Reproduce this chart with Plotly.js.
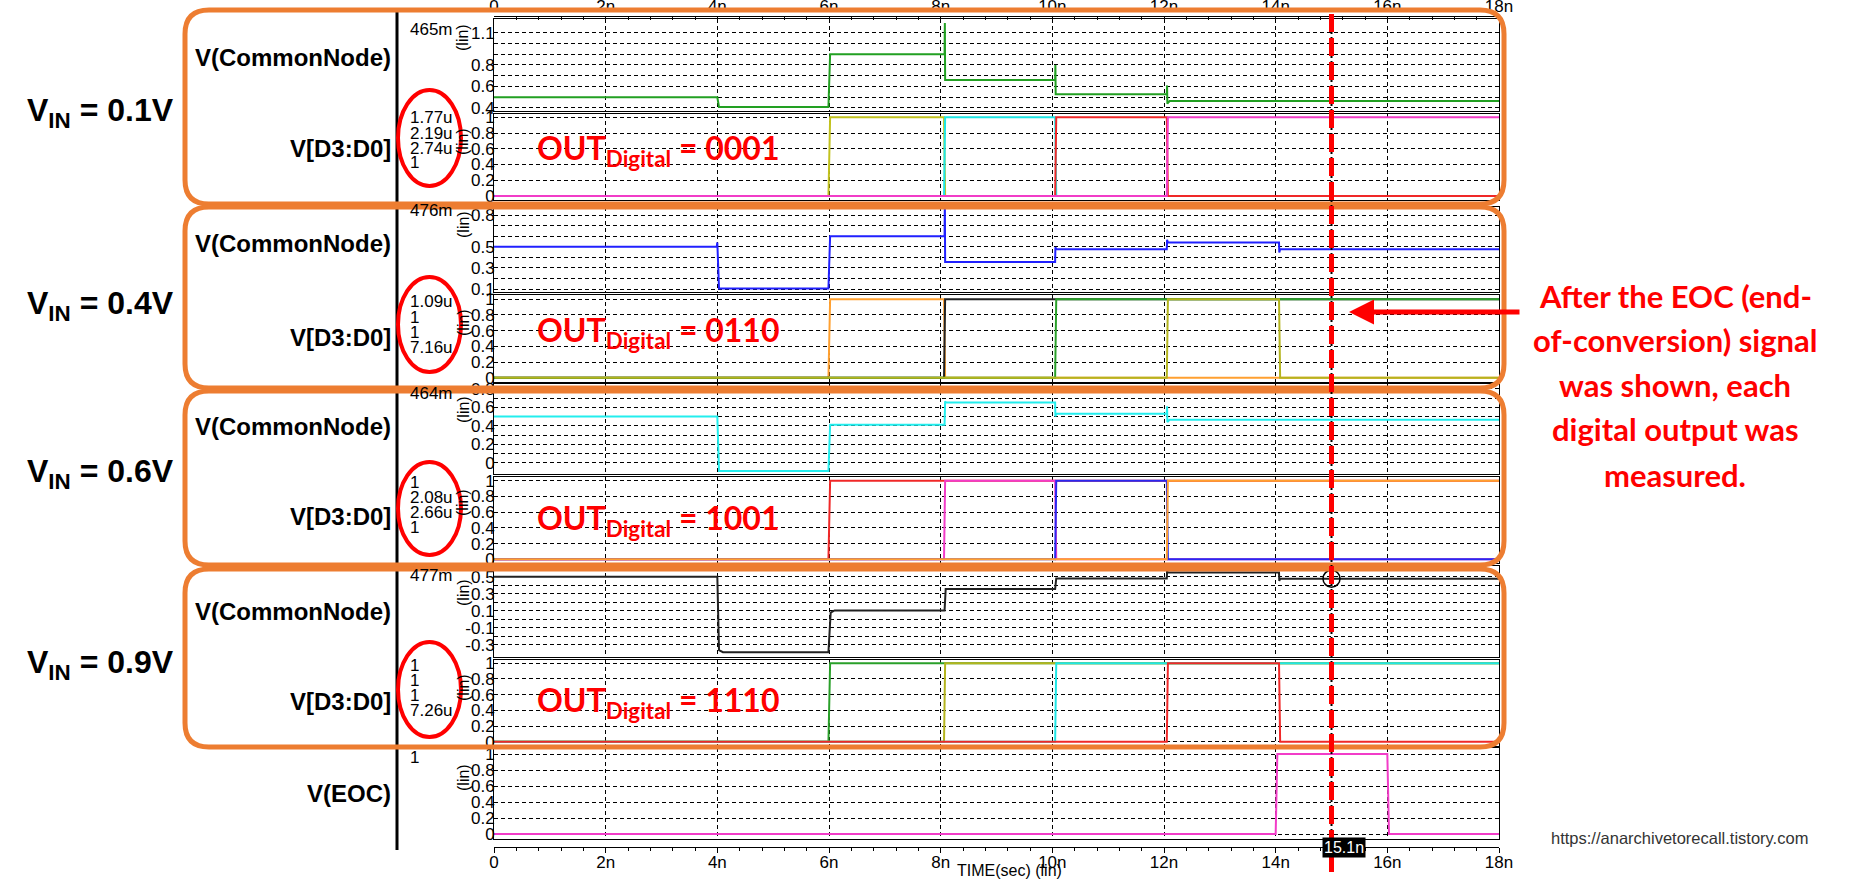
<!DOCTYPE html>
<html><head><meta charset="utf-8">
<script src="https://cdn.plot.ly/plotly-3.0.1.min.js"></script>
<style>html,body{margin:0;padding:0;background:#fff;} #chart{width:1870px;height:881px;}</style>
</head><body><div id="chart"></div>
<script>
// ---------------- DATA ----------------
const timeTickVals = [0, 2, 4, 6, 8, 10, 12, 14, 16, 18];
const timeTickText = ['0', '2n', '4n', '6n', '8n', '10n', '12n', '14n', '16n', '18n'];

const signalNames = ['V(CommonNode)', 'V[D3:D0]', 'V(CommonNode)', 'V[D3:D0]', 'V(CommonNode)', 'V[D3:D0]', 'V(CommonNode)', 'V[D3:D0]', 'V(EOC)'];
const vinValues = ['0.1V', '0.4V', '0.6V', '0.9V'];
const outCodes = ['0001', '0110', '1001', '1110'];

// V(CommonNode) traces (time in ns, volts)
const cnTime1 = [0, 4.00, 4.03, 5.99, 6.02, 8.07, 8.075, 8.08, 10.05, 10.055, 10.06, 12.05, 12.055, 12.06, 12.10, 18];
const cnVolt1 = [0.50, 0.50, 0.41, 0.41, 0.90, 0.90, 1.19, 0.66, 0.66, 0.80, 0.527, 0.527, 0.61, 0.44, 0.465, 0.465];
const cnTime2 = [0, 3.99, 4.00, 4.03, 5.99, 6.02, 8.07, 8.075, 8.08, 10.05, 10.055, 10.07, 12.05, 12.055, 12.07, 14.06, 14.065, 14.08, 18];
const cnVolt2 = [0.50, 0.50, 0.54, 0.105, 0.105, 0.60, 0.60, 0.95, 0.355, 0.355, 0.495, 0.477, 0.477, 0.565, 0.54, 0.54, 0.445, 0.476, 0.476];
const cnTime3 = [0, 4.00, 4.03, 5.99, 6.02, 8.07, 8.08, 8.09, 10.05, 10.055, 10.07, 12.05, 12.055, 12.06, 12.10, 18];
const cnVolt3 = [0.50, 0.50, -0.09, -0.09, 0.41, 0.41, 0.665, 0.652, 0.652, 0.50, 0.53, 0.53, 0.61, 0.44, 0.464, 0.464];
const cnTime4 = [0, 4.00, 4.03, 4.10, 5.99, 6.03, 6.10, 8.07, 8.09, 10.05, 10.07, 12.05, 12.055, 12.07, 14.06, 14.065, 14.08, 18];
const cnVolt4 = [0.50, 0.50, -0.36, -0.385, -0.385, 0.08, 0.105, 0.105, 0.355, 0.355, 0.48, 0.48, 0.567, 0.55, 0.55, 0.45, 0.477, 0.477];

// V[D3:D0] traces, rows = D3, D2, D1, D0
const digTime1 = [[0, 5.99, 6.02, 8.06, 8.08, 18], [0, 8.06, 8.08, 10.05, 10.07, 18], [0, 10.05, 10.07, 12.05, 12.07, 18], [0, 12.05, 12.07, 18]];
const digLevel1 = [[0, 0, 1, 1, 0, 0], [0, 0, 1, 1, 0, 0], [0, 0, 1, 1, 0, 0], [0, 0, 1, 1]];
const digTime2 = [[0, 5.99, 6.02, 8.06, 8.08, 18], [0, 8.06, 8.08, 18], [0, 10.05, 10.07, 18], [0, 12.05, 12.07, 14.06, 14.08, 18]];
const digLevel2 = [[0, 0, 1, 1, 0, 0], [0, 0, 1, 1], [0, 0, 1, 1], [0, 0, 1, 1, 0, 0]];
const digTime3 = [[0, 5.99, 6.02, 18], [0, 8.06, 8.08, 10.05, 10.07, 18], [0, 10.05, 10.07, 12.05, 12.07, 18], [0, 12.05, 12.07, 18]];
const digLevel3 = [[0, 0, 1, 1], [0, 0, 1, 1, 0, 0], [0, 0, 1, 1, 0, 0], [0, 0, 1, 1]];
const digTime4 = [[0, 5.99, 6.02, 18], [0, 8.06, 8.08, 18], [0, 10.05, 10.07, 18], [0, 12.05, 12.07, 14.06, 14.08, 18]];
const digLevel4 = [[0, 0, 1, 1], [0, 0, 1, 1], [0, 0, 1, 1], [0, 0, 1, 1, 0, 0]];

// V(EOC)
const eocTime = [0, 14.00, 14.03, 16.00, 16.03, 18];
const eocLevel = [0, 0, 1, 1, 0, 0];

// cursor
const cursorTime = 15.0;
const cursorLabel = '15.1n';
const cnCursorText = ['465m', '476m', '464m', '477m'];
const cnCursorValue = [0.465, 0.476, 0.464, 0.477];
const digCursorText = [['1.77u', '2.19u', '2.74u', '1'], ['1.09u', '1', '1', '7.16u'], ['1', '2.08u', '2.66u', '1'], ['1', '1', '1', '7.26u']];
const eocCursorText = '1';

// y tick labels
const cnTickVals = [
  [0.4, 0.5, 0.6, 0.7, 0.8, 0.9, 1.0, 1.1],
  [0.1, 0.2, 0.3, 0.4, 0.5, 0.6, 0.7, 0.8],
  [0, 0.1, 0.2, 0.3, 0.4, 0.5, 0.6, 0.7, 0.8],
  [-0.3, -0.2, -0.1, 0, 0.1, 0.2, 0.3, 0.4, 0.5]
];
const cnTickText = [
  ['0.4', '', '0.6', '', '0.8', '', '', '1.1'],
  ['0.1', '', '0.3', '', '0.5', '', '', '0.8'],
  ['0', '', '0.2', '', '0.4', '', '0.6', '', '0.8'],
  ['-0.3', '', '-0.1', '', '0.1', '', '0.3', '', '0.5']
];
const digTickVals = [0, 0.2, 0.4, 0.6, 0.8, 1];
const digTickText = ['0', '0.2', '0.4', '0.6', '0.8', '1'];

const noteLines = ['After the EOC (end-', 'of-conversion) signal', 'was shown, each', 'digital output was', 'measured.'];
const watermark = 'https://anarchivetorecall.tistory.com';

// ---------------- STYLE / LAYOUT ----------------
const W = 1870, H = 881;
const fx = p => p / W;
const fy = p => 1 - p / H;

const cnColors = ['#22a022', '#2020ff', '#22eeee', '#222222'];
const digColors = [
  ['#c2c21e', '#1fe6e6', '#f02828', '#f23cc8'],
  ['#ffa030', '#222222', '#2aa02a', '#b4b41e'],
  ['#f02828', '#f23cc8', '#2828f0', '#ffa030'],
  ['#2aa02a', '#b4b41e', '#1fe6e6', '#f02828']
];
const eocColor = '#f23cc8';

const panelTop = [19, 113.5, 207, 294.5, 384, 476.5, 566, 659.5, 748];
const panelBot = [111, 200, 292, 382, 474, 563, 657, 746, 839];
const panelRange = [[0.372, 1.2274], [-0.051, 1.048], [0.0716, 0.876], [-0.055, 1.061], [-0.122, 0.852], [-0.047, 1.053], [-0.441, 0.625], [-0.055, 1.048], [-0.0625, 1.075]];
const plotLeft = 494, plotRight = 1499;

const ax = i => (i === 1 ? '' : String(i));
const traces = [];
const cnTimes = [cnTime1, cnTime2, cnTime3, cnTime4];
const cnVolts = [cnVolt1, cnVolt2, cnVolt3, cnVolt4];
const digTimes = [digTime1, digTime2, digTime3, digTime4];
const digLevels = [digLevel1, digLevel2, digLevel3, digLevel4];

for (let p = 0; p < 4; p++) {
  const ci = 2 * p + 1, di = 2 * p + 2;
  traces.push({x: cnTimes[p], y: cnVolts[p], xaxis: 'x' + ax(ci), yaxis: 'y' + ax(ci), mode: 'lines',
    line: {color: cnColors[p], width: 2}, hoverinfo: 'skip'});
  for (let b = 0; b < 4; b++) {
    traces.push({x: digTimes[p][b], y: digLevels[p][b], xaxis: 'x' + ax(di), yaxis: 'y' + ax(di), mode: 'lines',
      line: {color: digColors[p][b], width: 2}, hoverinfo: 'skip'});
  }
}
traces.push({x: eocTime, y: eocLevel, xaxis: 'x9', yaxis: 'y9', mode: 'lines', line: {color: eocColor, width: 2}, hoverinfo: 'skip'});
// cursor circle on last CommonNode
traces.push({x: [cursorTime], y: [cnCursorValue[3]], xaxis: 'x7', yaxis: 'y7', mode: 'markers',
  marker: {symbol: 'circle-open', size: 17, color: '#000', line: {width: 1.5, color: '#000'}}, hoverinfo: 'skip', cliponaxis: false});
// dummies for ruler axes
traces.push({x: [null], y: [null], xaxis: 'x10', yaxis: 'y', mode: 'lines', hoverinfo: 'skip'});
traces.push({x: [null], y: [null], xaxis: 'x11', yaxis: 'y9', mode: 'lines', hoverinfo: 'skip'});

const gridStyle = {showgrid: true, gridcolor: '#000', gridwidth: 1, griddash: '4px,3px'};
const layout = {
  width: W, height: H, margin: {l: 0, r: 0, t: 0, b: 0},
  paper_bgcolor: '#fff', plot_bgcolor: '#fff', showlegend: false,
  font: {family: 'Liberation Sans, Arial, sans-serif', color: '#000', size: 16},
  annotations: [], shapes: []
};
for (let i = 1; i <= 9; i++) {
  const isCN = (i % 2 === 1) && i < 9;
  const p = Math.floor((i - 1) / 2);
  layout['xaxis' + ax(i)] = Object.assign({
    domain: [fx(plotLeft), fx(plotRight)], range: [0, 18], anchor: 'y' + ax(i),
    tickmode: 'array', tickvals: timeTickVals, showticklabels: false, ticks: '',
    showline: true, mirror: true, linecolor: '#000', linewidth: 1, zeroline: false, fixedrange: true
  }, gridStyle);
  layout['yaxis' + ax(i)] = Object.assign({
    domain: [fy(panelBot[i - 1]), fy(panelTop[i - 1])], range: panelRange[i - 1], anchor: 'x' + ax(i),
    tickmode: 'array', tickvals: isCN ? cnTickVals[p] : digTickVals, ticktext: isCN ? cnTickText[p] : digTickText,
    ticks: '', tickfont: {size: 17, color: '#000'}, ticklabelstandoff: -5,
    showline: true, mirror: true, linecolor: '#000', linewidth: 1, zeroline: false, fixedrange: true
  }, gridStyle);
}
const rulerBase = {range: [0, 18], anchor: 'free', tickmode: 'array', tickvals: timeTickVals, ticktext: timeTickText,
  showline: true, linecolor: '#000', linewidth: 1, showgrid: false, zeroline: false, tickcolor: '#000', tickfont: {size: 17, color: '#000'}, fixedrange: true};
layout.xaxis10 = Object.assign({}, rulerBase, {overlaying: 'x', position: fy(15.5), side: 'top', ticks: 'inside', ticklen: 4, ticklabelstandoff: -3,
  minor: {tickmode: 'linear', tick0: 0, dtick: 0.4, ticks: 'inside', ticklen: 3, tickcolor: '#000'}});
layout.xaxis11 = Object.assign({}, rulerBase, {overlaying: 'x9', position: fy(847), side: 'bottom', ticks: 'outside', ticklen: 5, ticklabelstandoff: -5,
  minor: {tickmode: 'linear', tick0: 0, dtick: 0.4, ticks: 'outside', ticklen: 3, tickcolor: '#000'}});

const A = layout.annotations, S = layout.shapes;
// signal names
const nameY = [57, 148, 243, 337, 426, 516, 611, 701, 793];
signalNames.forEach((t, i) => A.push({text: '<b>' + t + '</b>', xref: 'paper', yref: 'paper', x: fx(393), y: fy(nameY[i]),
  xanchor: 'right', yanchor: 'middle', showarrow: false, font: {size: 24, color: '#000', family: 'Liberation Sans, Arial'}}));
// VIN labels
const vinY = [112, 305, 473, 664];
vinValues.forEach((t, i) => A.push({text: '<b>V<sub>IN</sub> = ' + t + '</b>', xref: 'paper', yref: 'paper', x: fx(100), y: fy(vinY[i]),
  xanchor: 'center', yanchor: 'middle', showarrow: false, font: {size: 32, color: '#000', family: 'Liberation Sans, Arial'}}));
// OUT labels
const outY = [150, 332, 520, 702];
outCodes.forEach((t, i) => A.push({text: '<b>OUT<sub>Digital</sub> = ' + t + '</b>', xref: 'paper', yref: 'paper', x: fx(535), y: fy(outY[i]),
  xanchor: 'left', yanchor: 'middle', showarrow: false, font: {size: 32, color: '#ff0000', family: 'Lato, sans-serif'}}));
// (lin) labels
const linY = [38, 142, 225, 323, 410, 503, 593, 688, 778];
linY.forEach(y => A.push({text: '(lin)', xref: 'paper', yref: 'paper', x: fx(463), y: fy(y), textangle: -90,
  xanchor: 'center', yanchor: 'middle', showarrow: false, font: {size: 16, color: '#000'}}));
// cursor values
const cnCurY = [29, 210, 393, 575];
cnCursorText.forEach((t, i) => A.push({text: t, xref: 'paper', yref: 'paper', x: fx(408), y: fy(cnCurY[i]),
  xanchor: 'left', yanchor: 'middle', showarrow: false, font: {size: 17, color: '#000'}}));
const digCurY0 = [118, 302, 482, 665];
digCursorText.forEach((rows, i) => rows.forEach((t, k) => A.push({text: t, xref: 'paper', yref: 'paper', x: fx(408), y: fy(digCurY0[i] + 15 * k),
  xanchor: 'left', yanchor: 'middle', showarrow: false, font: {size: 17, color: '#000'}})));
A.push({text: eocCursorText, xref: 'paper', yref: 'paper', x: fx(408), y: fy(757), xanchor: 'left', yanchor: 'middle', showarrow: false, font: {size: 17, color: '#000'}});
// cursor label box
A.push({text: cursorLabel, xref: 'x', yref: 'paper', x: cursorTime, xshift: 12, y: fy(847), xanchor: 'center', yanchor: 'middle',
  showarrow: false, bgcolor: '#000', borderpad: 1, font: {size: 16, color: '#fff'}});
// axis title
A.push({text: 'TIME(sec) (lin)', xref: 'paper', yref: 'paper', x: fx(1009), y: fy(870), xanchor: 'center', yanchor: 'middle', showarrow: false, font: {size: 16, color: '#000'}});
// note text (one annotation per line) + arrow
const noteY = [296, 340, 385, 429, 475];
noteLines.forEach((t, i) => A.push({text: '<b>' + t + '</b>', xref: 'paper', yref: 'paper', x: fx(1675), y: fy(noteY[i]), xanchor: 'center', yanchor: 'middle',
  showarrow: false, font: {size: 31, color: '#ff0000', family: 'Lato, sans-serif'}}));
A.push({text: '', xref: 'paper', yref: 'paper', x: fx(1349), y: fy(312), ax: 172, ay: 0, showarrow: true,
  arrowhead: 2, arrowsize: 1, arrowwidth: 5, arrowcolor: '#ff0000', standoff: 0});
// watermark
A.push({text: watermark, xref: 'paper', yref: 'paper', x: fx(1549), y: fy(838), xanchor: 'left', yanchor: 'middle', showarrow: false,
  font: {size: 16.5, color: '#333', family: 'Liberation Sans, Arial'}});

// shapes: left bar
S.push({type: 'line', xref: 'paper', yref: 'paper', x0: fx(397), x1: fx(397), y0: fy(12), y1: fy(850), line: {color: '#000', width: 3}});
// orange rounded boxes
function rr(x0, y0, x1, y1, r) {
  const X = fx, Y = fy;
  return 'M' + X(x0 + r) + ',' + Y(y0) + ' L' + X(x1 - r) + ',' + Y(y0) + ' Q' + X(x1) + ',' + Y(y0) + ' ' + X(x1) + ',' + Y(y0 + r) +
    ' L' + X(x1) + ',' + Y(y1 - r) + ' Q' + X(x1) + ',' + Y(y1) + ' ' + X(x1 - r) + ',' + Y(y1) +
    ' L' + X(x0 + r) + ',' + Y(y1) + ' Q' + X(x0) + ',' + Y(y1) + ' ' + X(x0) + ',' + Y(y1 - r) +
    ' L' + X(x0) + ',' + Y(y0 + r) + ' Q' + X(x0) + ',' + Y(y0) + ' ' + X(x0 + r) + ',' + Y(y0) + ' Z';
}
const boxTop = [10, 207, 391, 569], boxBot = [204, 388, 565, 747];
boxTop.forEach((t, i) => S.push({type: 'path', xref: 'paper', yref: 'paper', path: rr(185, t, 1504, boxBot[i], 24),
  line: {color: '#ED7D31', width: 5}, fillcolor: 'rgba(0,0,0,0)', layer: 'above'}));
// red ellipses
const ellTop = [90, 277, 462, 642], ellBot = [186, 372, 555, 737];
ellTop.forEach((t, i) => S.push({type: 'circle', xref: 'paper', yref: 'paper', x0: fx(398), x1: fx(461), y0: fy(t), y1: fy(ellBot[i]),
  line: {color: '#ff0000', width: 4}, layer: 'above'}));
// cursor lines
S.push({type: 'line', xref: 'x', yref: 'paper', x0: cursorTime, x1: cursorTime, y0: fy(19), y1: fy(858), line: {color: '#000', width: 2, dash: 'dot'}, layer: 'above'});
S.push({type: 'line', xref: 'x', yref: 'paper', x0: cursorTime, x1: cursorTime, y0: fy(14), y1: fy(876), line: {color: '#ff0000', width: 5, dash: '18px,6px'}, layer: 'above'});

Plotly.newPlot('chart', traces, layout, {staticPlot: true, displayModeBar: false});
</script>
</body></html>
